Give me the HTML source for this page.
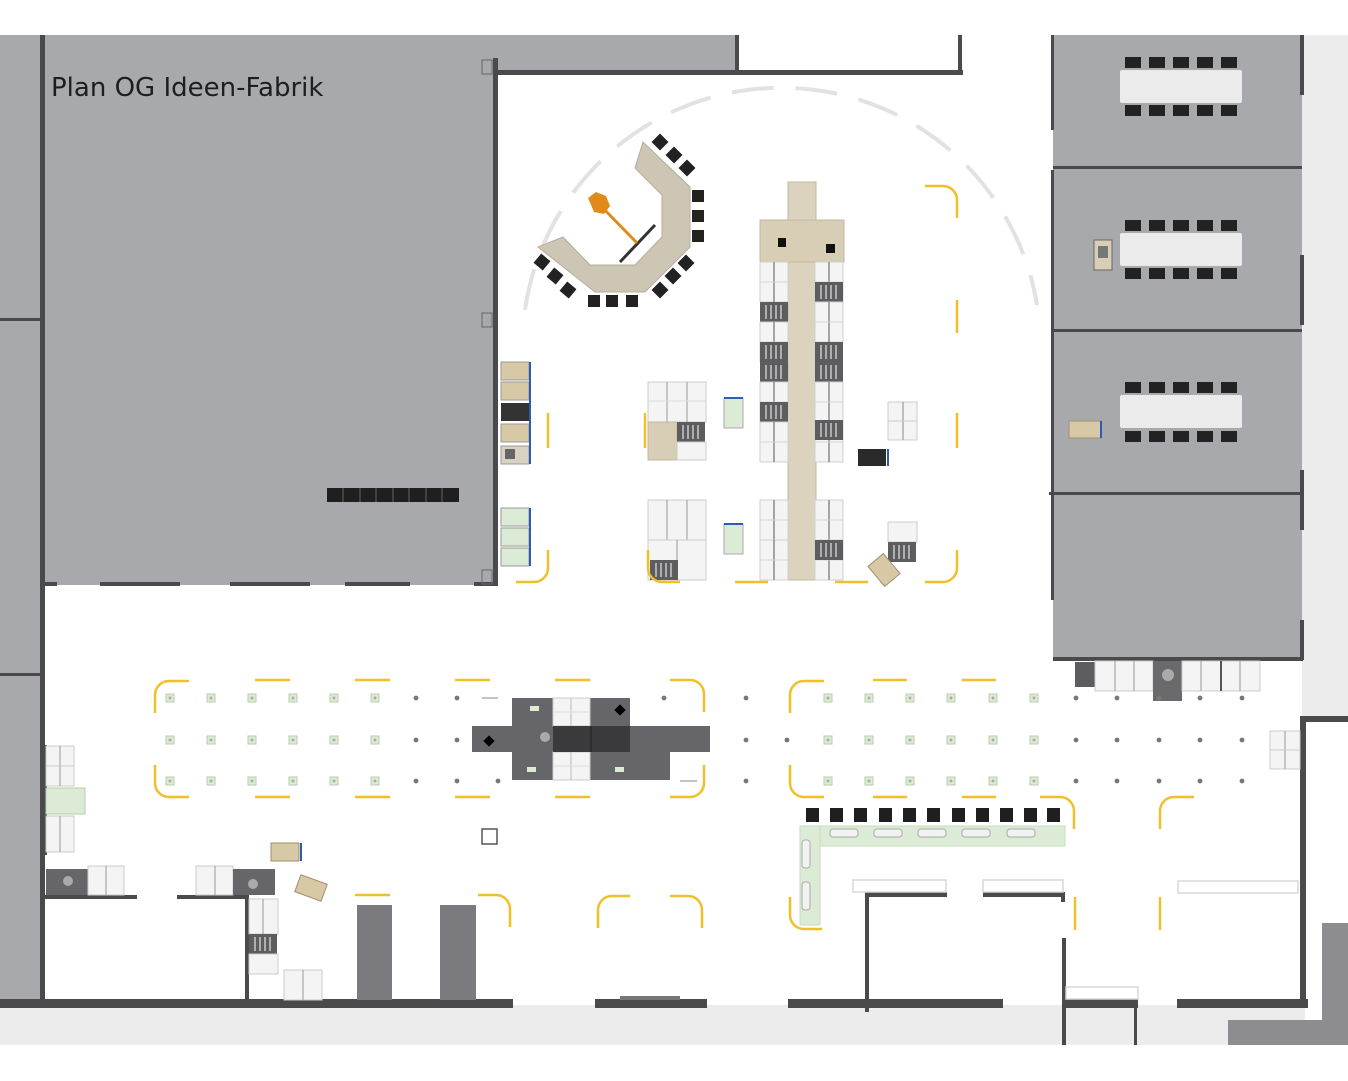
<!DOCTYPE html>
<html><head><meta charset="utf-8"><style>
html,body{margin:0;padding:0;background:#fff;}
svg{display:block;font-family:"Liberation Sans","DejaVu Sans",sans-serif;}
</style></head><body>
<svg width="1348" height="1081" viewBox="0 0 1348 1081" xmlns="http://www.w3.org/2000/svg">
<defs>
<g id="half"><rect x="0" y="0" width="28" height="40" fill="#f4f4f4" stroke="#cfcfcf"/><line x1="14" y1="0" x2="14" y2="40" stroke="#8a8a8a" stroke-width="1.5"/><line x1="0" y1="20" x2="28" y2="20" stroke="#d6d6d6"/></g>
<g id="gr"><rect x="0" y="0" width="28" height="20" fill="#5d5d60"/><g stroke="#c9c9c9" stroke-width="1.5"><line x1="6" y1="3" x2="6" y2="17"/><line x1="11" y1="3" x2="11" y2="17"/><line x1="16" y1="3" x2="16" y2="17"/><line x1="21" y1="3" x2="21" y2="17"/></g></g>
<g id="sq"><rect x="-4" y="-4" width="8" height="8" fill="#dfe9d6" stroke="#b9cdae"/><rect x="-1.3" y="-1.3" width="2.6" height="2.6" fill="#9db58f"/></g>
<g id="dot"><circle r="2.4" fill="#777"/></g>
</defs>

<rect x="0" y="35" width="42" height="970" fill="#a8a9ac"/>
<rect x="45" y="35" width="452" height="550" fill="#a8a9ac"/>
<rect x="497" y="35" width="240" height="37" fill="#a8a9ac"/>
<rect x="1053" y="35" width="249" height="625" fill="#a8a9ac"/>
<rect x="1302" y="35" width="46" height="682" fill="#ececed"/>
<rect x="0" y="1005" width="1305" height="40" fill="#ececed"/>
<rect x="1322" y="923" width="26" height="122" fill="#8d8d91"/>
<rect x="1228" y="1020" width="120" height="25" fill="#8d8d91"/>

<text x="51" y="96" font-size="26" fill="#1e1e1e" font-family="'DejaVu Sans','Liberation Sans',sans-serif">Plan OG Ideen-Fabrik</text>

<g fill="#4a4a4d">
<rect x="40" y="35" width="5" height="970"/>
<rect x="0" y="318" width="42" height="3"/>
<rect x="0" y="673" width="42" height="3"/>
<rect x="493" y="58" width="5" height="528"/>
<rect x="493" y="70" width="470" height="5"/>
<rect x="735" y="35" width="4" height="38"/>
<rect x="958" y="35" width="4" height="40"/>
<rect x="45" y="582" width="12" height="4"/>
<rect x="100" y="582" width="80" height="4"/>
<rect x="230" y="582" width="80" height="4"/>
<rect x="345" y="582" width="65" height="4"/>
<rect x="474" y="582" width="22" height="4"/>
<rect x="1051" y="35" width="3" height="95"/>
<rect x="1051" y="170" width="3" height="430"/>
<rect x="1053" y="166" width="249" height="3"/>
<rect x="1053" y="329" width="249" height="3"/>
<rect x="1049" y="492" width="253" height="3"/>
<rect x="1053" y="657" width="250" height="4"/>
<rect x="1300" y="35" width="4" height="60"/>
<rect x="1300" y="255" width="4" height="70"/>
<rect x="1300" y="470" width="4" height="60"/>
<rect x="1300" y="620" width="4" height="40"/>
<rect x="1300" y="716" width="48" height="6"/>
<rect x="1300" y="716" width="6" height="292"/>
<rect x="0" y="999" width="513" height="9"/>
<rect x="595" y="999" width="112" height="9"/>
<rect x="788" y="999" width="215" height="9"/>
<rect x="1062" y="999" width="76" height="9"/>
<rect x="1177" y="999" width="131" height="9"/>
<rect x="1062" y="938" width="4" height="107"/>
<rect x="1134" y="1000" width="3" height="45"/>
<rect x="865" y="892" width="4" height="120"/>
<rect x="865" y="892" width="82" height="5"/>
<rect x="983" y="892" width="82" height="5"/>
<rect x="1061" y="892" width="4" height="10"/>
<rect x="44" y="895" width="93" height="4"/>
<rect x="177" y="895" width="72" height="4"/>
<rect x="245" y="895" width="4" height="105"/>
<rect x="44" y="745" width="3" height="110"/>
</g>
<rect x="357" y="905" width="35" height="95" fill="#7b7b7f"/>
<rect x="440" y="905" width="36" height="95" fill="#7b7b7f"/>
<rect x="482" y="60" width="10" height="14" fill="none" stroke="#666"/>
<rect x="482" y="313" width="10" height="14" fill="none" stroke="#666"/>
<rect x="482" y="570" width="10" height="14" fill="none" stroke="#666"/>
<g fill="none" stroke="#d8d8d8" stroke-width="1.5">
<rect x="853" y="880" width="93" height="12"/><rect x="983" y="880" width="80" height="12"/><rect x="1178" y="881" width="120" height="12"/><rect x="1066" y="987" width="72" height="12"/>
</g>
<rect x="620" y="996" width="60" height="4" fill="#777"/>

<g fill="#1f1f1f"><rect x="327" y="488" width="132" height="14"/></g>
<g stroke="#666" stroke-width="1"><line x1="343" y1="488" x2="343" y2="502"/><line x1="360" y1="488" x2="360" y2="502"/><line x1="376" y1="488" x2="376" y2="502"/><line x1="393" y1="488" x2="393" y2="502"/><line x1="409" y1="488" x2="409" y2="502"/><line x1="426" y1="488" x2="426" y2="502"/><line x1="442" y1="488" x2="442" y2="502"/></g>

<g>
<rect x="1120" y="70" width="122" height="33" fill="#ebebec" rx="2"/>
<rect x="1120" y="233" width="122" height="33" fill="#ebebec" rx="2"/>
<rect x="1120" y="395" width="122" height="33" fill="#ebebec" rx="2"/>
<g fill="#222">
<rect x="1125" y="57" width="16" height="11"/><rect x="1149" y="57" width="16" height="11"/><rect x="1173" y="57" width="16" height="11"/><rect x="1197" y="57" width="16" height="11"/><rect x="1221" y="57" width="16" height="11"/>
<rect x="1125" y="105" width="16" height="11"/><rect x="1149" y="105" width="16" height="11"/><rect x="1173" y="105" width="16" height="11"/><rect x="1197" y="105" width="16" height="11"/><rect x="1221" y="105" width="16" height="11"/>
<rect x="1125" y="220" width="16" height="11"/><rect x="1149" y="220" width="16" height="11"/><rect x="1173" y="220" width="16" height="11"/><rect x="1197" y="220" width="16" height="11"/><rect x="1221" y="220" width="16" height="11"/>
<rect x="1125" y="268" width="16" height="11"/><rect x="1149" y="268" width="16" height="11"/><rect x="1173" y="268" width="16" height="11"/><rect x="1197" y="268" width="16" height="11"/><rect x="1221" y="268" width="16" height="11"/>
<rect x="1125" y="382" width="16" height="11"/><rect x="1149" y="382" width="16" height="11"/><rect x="1173" y="382" width="16" height="11"/><rect x="1197" y="382" width="16" height="11"/><rect x="1221" y="382" width="16" height="11"/>
<rect x="1125" y="431" width="16" height="11"/><rect x="1149" y="431" width="16" height="11"/><rect x="1173" y="431" width="16" height="11"/><rect x="1197" y="431" width="16" height="11"/><rect x="1221" y="431" width="16" height="11"/>
</g>
<rect x="1094" y="240" width="18" height="30" fill="#d9cfb8" stroke="#666"/><rect x="1098" y="246" width="10" height="12" fill="#777"/>
<rect x="1069" y="421" width="32" height="17" fill="#d8c9a6" stroke="#a08e6b"/><line x1="1101" y1="421" x2="1101" y2="438" stroke="#2c5cb3" stroke-width="2"/>
</g>

<rect x="1075" y="662" width="20" height="25" fill="#5d5d60"/>
<rect x="1095" y="661" width="58" height="30" fill="#f4f4f4" stroke="#ccc"/><line x1="1115" y1="661" x2="1115" y2="691" stroke="#999"/><line x1="1134" y1="661" x2="1134" y2="691" stroke="#999"/>
<rect x="1153" y="661" width="29" height="40" fill="#6a6a6d"/><circle cx="1168" cy="675" r="6" fill="#aaa"/>
<rect x="1182" y="661" width="78" height="30" fill="#f4f4f4" stroke="#ccc"/><line x1="1201" y1="661" x2="1201" y2="691" stroke="#999"/><line x1="1221" y1="661" x2="1221" y2="691" stroke="#555" stroke-width="2"/><line x1="1240" y1="661" x2="1240" y2="691" stroke="#999"/>
<rect x="1270" y="731" width="30" height="38" fill="#f4f4f4" stroke="#ccc"/><line x1="1285" y1="731" x2="1285" y2="769" stroke="#999"/><line x1="1270" y1="750" x2="1300" y2="750" stroke="#ccc"/>

<path d="M 525 310 A 259 259 0 0 1 1037 305" fill="none" stroke="#e2e2e2" stroke-width="4" stroke-dasharray="42 22"/>

<polygon points="538,247 595,292 645,292 690,247 690,187 643,142 635,168 662,195 662,237 635,265 590,265 563,237" fill="#cdc6b5" stroke="#b5ad9a"/>
<g fill="#222">
<rect x="588" y="295" width="12" height="12"/><rect x="606" y="295" width="12" height="12"/><rect x="626" y="295" width="12" height="12"/>
<rect x="692" y="190" width="12" height="12"/><rect x="692" y="210" width="12" height="12"/><rect x="692" y="230" width="12" height="12"/>
<rect x="-6" y="-6" width="12" height="12" transform="translate(542,262) rotate(40)"/>
<rect x="-6" y="-6" width="12" height="12" transform="translate(555,276) rotate(40)"/>
<rect x="-6" y="-6" width="12" height="12" transform="translate(568,290) rotate(40)"/>
<rect x="-6" y="-6" width="12" height="12" transform="translate(660,290) rotate(-45)"/>
<rect x="-6" y="-6" width="12" height="12" transform="translate(673,276) rotate(-45)"/>
<rect x="-6" y="-6" width="12" height="12" transform="translate(686,263) rotate(-45)"/>
<rect x="-6" y="-6" width="12" height="12" transform="translate(660,142) rotate(45)"/>
<rect x="-6" y="-6" width="12" height="12" transform="translate(674,155) rotate(45)"/>
<rect x="-6" y="-6" width="12" height="12" transform="translate(687,168) rotate(45)"/>
</g>
<line x1="620" y1="262" x2="655" y2="225" stroke="#333" stroke-width="3"/>
<line x1="600" y1="205" x2="637" y2="243" stroke="#e08a1c" stroke-width="3"/>
<polygon points="588,198 596,192 606,196 610,206 604,214 594,212" fill="#e08a1c"/>

<g>
<rect x="501" y="362" width="28" height="18" fill="#d8c9a6" stroke="#999"/>
<rect x="501" y="382" width="28" height="18" fill="#d8c9a6" stroke="#999"/>
<rect x="501" y="403" width="28" height="18" fill="#333"/>
<rect x="501" y="424" width="28" height="18" fill="#d8c9a6" stroke="#999"/>
<rect x="501" y="446" width="28" height="18" fill="#d9d2c2" stroke="#999"/><rect x="505" y="449" width="10" height="10" fill="#666"/>
<rect x="501" y="508" width="28" height="18" fill="#dcebd6" stroke="#999"/>
<rect x="501" y="528" width="28" height="18" fill="#dcebd6" stroke="#999"/>
<rect x="501" y="548" width="28" height="18" fill="#dcebd6" stroke="#999"/>
<g stroke="#2c5cb3" stroke-width="2"><line x1="530" y1="362" x2="530" y2="464"/><line x1="530" y1="508" x2="530" y2="566"/></g>
</g>

<rect x="788" y="182" width="28" height="398" fill="#dcd3bf" stroke="#c2b89f"/>
<rect x="760" y="220" width="84" height="42" fill="#d8cdb5" stroke="#c2b89f"/>
<rect x="778" y="238" width="8" height="9" fill="#111"/><rect x="826" y="244" width="9" height="9" fill="#111"/>
<use href="#half" x="760" y="262"/><use href="#half" x="815" y="262"/>
<use href="#gr" x="815" y="282"/>
<use href="#gr" x="760" y="302"/>
<use href="#half" x="760" y="322"/>
<use href="#half" x="815" y="302"/>
<use href="#gr" x="760" y="342"/><use href="#gr" x="760" y="362"/>
<use href="#gr" x="815" y="342"/><use href="#gr" x="815" y="362"/>
<use href="#half" x="760" y="382"/><use href="#half" x="815" y="382"/>
<use href="#gr" x="760" y="402"/>
<use href="#half" x="760" y="422"/><use href="#half" x="815" y="422"/>
<use href="#gr" x="815" y="420"/>
<use href="#half" x="760" y="500"/><use href="#half" x="815" y="500"/>
<use href="#half" x="760" y="540"/><use href="#half" x="815" y="540"/>
<use href="#gr" x="815" y="540"/>
<rect x="648" y="382" width="58" height="40" fill="#f4f4f4" stroke="#ccc"/><g stroke="#999"><line x1="667" y1="382" x2="667" y2="422"/><line x1="687" y1="382" x2="687" y2="422"/></g><line x1="648" y1="401" x2="706" y2="401" stroke="#ddd"/>
<rect x="648" y="422" width="29" height="38" fill="#d8cdb5" stroke="#c2b89f"/>
<use href="#gr" x="677" y="422"/>
<rect x="677" y="442" width="29" height="18" fill="#f4f4f4" stroke="#ccc"/>
<rect x="648" y="500" width="58" height="40" fill="#f4f4f4" stroke="#ccc"/><g stroke="#999"><line x1="667" y1="500" x2="667" y2="540"/><line x1="687" y1="500" x2="687" y2="540"/></g>
<rect x="648" y="540" width="58" height="40" fill="#f4f4f4" stroke="#ccc"/><g stroke="#999"><line x1="677" y1="540" x2="677" y2="580"/></g>
<use href="#gr" x="650" y="560"/>
<rect x="724" y="398" width="19" height="30" fill="#dcebd6" stroke="#aaa"/><line x1="724" y1="398" x2="743" y2="398" stroke="#2c5cb3" stroke-width="2"/>
<rect x="724" y="524" width="19" height="30" fill="#dcebd6" stroke="#aaa"/><line x1="724" y1="524" x2="743" y2="524" stroke="#2c5cb3" stroke-width="2"/>
<rect x="888" y="402" width="29" height="38" fill="#f4f4f4" stroke="#ccc"/><line x1="903" y1="402" x2="903" y2="440" stroke="#888"/><line x1="888" y1="421" x2="917" y2="421" stroke="#ccc"/>
<rect x="858" y="449" width="28" height="17" fill="#2a2a2a"/><line x1="888" y1="449" x2="888" y2="466" stroke="#2c5cb3" stroke-width="2"/>
<rect x="888" y="522" width="29" height="20" fill="#f4f4f4" stroke="#ccc"/><use href="#gr" x="888" y="542"/>
<rect x="-10" y="-13" width="20" height="26" fill="#d8c9a6" stroke="#a08e6b" transform="translate(884,570) rotate(-40)"/>

<g fill="none" stroke="#efc02a" stroke-width="2.5">
<path d="M 925 186 h 18 a 14 14 0 0 1 14 14 v 18"/>
<line x1="957" y1="300" x2="957" y2="333"/><line x1="957" y1="413" x2="957" y2="448"/>
<path d="M 957 550 v 18 a 14 14 0 0 1 -14 14 h -18"/>
<line x1="835" y1="582" x2="868" y2="582"/><line x1="735" y1="582" x2="768" y2="582"/>
<path d="M 680 582 h -18 a 14 14 0 0 1 -14 -14 v -18"/>
<line x1="645" y1="413" x2="645" y2="448"/>
<line x1="548" y1="413" x2="548" y2="448"/>
<path d="M 548 550 v 18 a 14 14 0 0 1 -14 14 h -18"/>
</g>

<g fill="none" stroke="#efc02a" stroke-width="2.5">
<path d="M 155 713 v -18 a 14 14 0 0 1 14 -14 h 20"/>
<path d="M 155 765 v 18 a 14 14 0 0 0 14 14 h 20"/>
<line x1="255" y1="680" x2="290" y2="680"/><line x1="355" y1="680" x2="390" y2="680"/><line x1="455" y1="680" x2="490" y2="680"/><line x1="555" y1="680" x2="590" y2="680"/>
<line x1="255" y1="797" x2="290" y2="797"/><line x1="355" y1="797" x2="390" y2="797"/><line x1="455" y1="797" x2="490" y2="797"/><line x1="555" y1="797" x2="590" y2="797"/>
<path d="M 670 680 h 20 a 14 14 0 0 1 14 14 v 18"/>
<path d="M 704 765 v 18 a 14 14 0 0 1 -14 14 h -20"/>
<path d="M 790 713 v -18 a 14 14 0 0 1 14 -14 h 20"/>
<path d="M 790 765 v 18 a 14 14 0 0 0 14 14 h 20"/>
<line x1="873" y1="680" x2="907" y2="680"/><line x1="962" y1="680" x2="996" y2="680"/>
<line x1="873" y1="797" x2="907" y2="797"/><line x1="962" y1="797" x2="996" y2="797"/>
<path d="M 1040 797 h 20 a 14 14 0 0 1 14 14 v 18"/>
<path d="M 1160 829 v -18 a 14 14 0 0 1 14 -14 h 20"/>
<line x1="1075" y1="897" x2="1075" y2="930"/><line x1="1160" y1="897" x2="1160" y2="930"/>
<path d="M 790 897 v 18 a 14 14 0 0 0 14 14 h 18"/>
<line x1="355" y1="895" x2="390" y2="895"/>
<path d="M 478 895 h 18 a 14 14 0 0 1 14 14 v 18"/>
<path d="M 598 928 v -18 a 14 14 0 0 1 14 -14 h 18"/>
<path d="M 670 896 h 18 a 14 14 0 0 1 14 14 v 18"/>
</g>

<g>
<use href="#sq" x="170" y="698"/><use href="#sq" x="211" y="698"/><use href="#sq" x="252" y="698"/><use href="#sq" x="293" y="698"/><use href="#sq" x="334" y="698"/><use href="#sq" x="375" y="698"/>
<use href="#sq" x="170" y="740"/><use href="#sq" x="211" y="740"/><use href="#sq" x="252" y="740"/><use href="#sq" x="293" y="740"/><use href="#sq" x="334" y="740"/><use href="#sq" x="375" y="740"/>
<use href="#sq" x="170" y="781"/><use href="#sq" x="211" y="781"/><use href="#sq" x="252" y="781"/><use href="#sq" x="293" y="781"/><use href="#sq" x="334" y="781"/><use href="#sq" x="375" y="781"/>
<use href="#sq" x="828" y="698"/><use href="#sq" x="869" y="698"/><use href="#sq" x="910" y="698"/><use href="#sq" x="951" y="698"/><use href="#sq" x="993" y="698"/><use href="#sq" x="1034" y="698"/>
<use href="#sq" x="828" y="740"/><use href="#sq" x="869" y="740"/><use href="#sq" x="910" y="740"/><use href="#sq" x="951" y="740"/><use href="#sq" x="993" y="740"/><use href="#sq" x="1034" y="740"/>
<use href="#sq" x="828" y="781"/><use href="#sq" x="869" y="781"/><use href="#sq" x="910" y="781"/><use href="#sq" x="951" y="781"/><use href="#sq" x="993" y="781"/><use href="#sq" x="1034" y="781"/>
<use href="#dot" x="416" y="698"/><use href="#dot" x="457" y="698"/><use href="#dot" x="416" y="740"/><use href="#dot" x="457" y="740"/><use href="#dot" x="416" y="781"/><use href="#dot" x="457" y="781"/><use href="#dot" x="498" y="781"/>
<use href="#dot" x="664" y="698"/><use href="#dot" x="746" y="698"/><use href="#dot" x="746" y="740"/><use href="#dot" x="746" y="781"/><use href="#dot" x="787" y="740"/>
<use href="#dot" x="1076" y="698"/><use href="#dot" x="1117" y="698"/><use href="#dot" x="1159" y="698"/><use href="#dot" x="1200" y="698"/><use href="#dot" x="1242" y="698"/>
<use href="#dot" x="1076" y="740"/><use href="#dot" x="1117" y="740"/><use href="#dot" x="1159" y="740"/><use href="#dot" x="1200" y="740"/><use href="#dot" x="1242" y="740"/>
<use href="#dot" x="1076" y="781"/><use href="#dot" x="1117" y="781"/><use href="#dot" x="1159" y="781"/><use href="#dot" x="1200" y="781"/><use href="#dot" x="1242" y="781"/>
<line x1="482" y1="698" x2="498" y2="698" stroke="#888"/><line x1="680" y1="781" x2="697" y2="781" stroke="#888"/>
</g>

<rect x="472" y="726" width="238" height="26" fill="#66666a"/>
<rect x="512" y="698" width="118" height="28" fill="#66666a"/>
<rect x="512" y="752" width="158" height="28" fill="#66666a"/>
<rect x="553" y="698" width="37" height="28" fill="#f4f4f4" stroke="#ccc"/><line x1="571" y1="698" x2="571" y2="726" stroke="#bbb"/><line x1="553" y1="712" x2="590" y2="712" stroke="#ddd"/>
<rect x="553" y="752" width="37" height="28" fill="#f4f4f4" stroke="#ccc"/><line x1="571" y1="752" x2="571" y2="780" stroke="#bbb"/><line x1="553" y1="766" x2="590" y2="766" stroke="#ddd"/>
<rect x="553" y="726" width="77" height="26" fill="#3a3a3c"/><line x1="591" y1="726" x2="591" y2="752" stroke="#222"/>
<rect x="-4" y="-4" width="8" height="8" fill="#000" transform="translate(489,741) rotate(45)"/>
<rect x="-4" y="-4" width="8" height="8" fill="#000" transform="translate(620,710) rotate(45)"/>
<circle cx="545" cy="737" r="5" fill="#aaa"/>
<rect x="530" y="706" width="9" height="5" fill="#dcebd6"/><rect x="527" y="767" width="9" height="5" fill="#dcebd6"/><rect x="615" y="767" width="9" height="5" fill="#dcebd6"/>

<rect x="800" y="826" width="265" height="20" fill="#dcebd6" stroke="#c6dcbc"/>
<rect x="800" y="826" width="20" height="99" fill="#dcebd6" stroke="#c6dcbc"/>
<g fill="#f2f2f2" stroke="#aaa"><rect x="830" y="829" width="28" height="8" rx="3"/><rect x="874" y="829" width="28" height="8" rx="3"/><rect x="918" y="829" width="28" height="8" rx="3"/><rect x="962" y="829" width="28" height="8" rx="3"/><rect x="1007" y="829" width="28" height="8" rx="3"/><rect x="802" y="840" width="8" height="28" rx="3"/><rect x="802" y="882" width="8" height="28" rx="3"/></g>
<g fill="#1f1f1f">
<rect x="806" y="808" width="13" height="14"/><rect x="830" y="808" width="13" height="14"/><rect x="854" y="808" width="13" height="14"/><rect x="879" y="808" width="13" height="14"/><rect x="903" y="808" width="13" height="14"/><rect x="927" y="808" width="13" height="14"/><rect x="952" y="808" width="13" height="14"/><rect x="976" y="808" width="13" height="14"/><rect x="1000" y="808" width="13" height="14"/><rect x="1024" y="808" width="13" height="14"/><rect x="1047" y="808" width="13" height="14"/>
</g>
<rect x="482" y="829" width="15" height="15" fill="#fff" stroke="#555" stroke-width="1.5"/>

<rect x="46" y="746" width="28" height="40" fill="#f4f4f4" stroke="#ccc"/><line x1="60" y1="746" x2="60" y2="786" stroke="#999"/><line x1="46" y1="766" x2="74" y2="766" stroke="#ccc"/>
<rect x="46" y="788" width="39" height="26" fill="#dcebd6" stroke="#b9cdae"/>
<rect x="46" y="816" width="28" height="36" fill="#f4f4f4" stroke="#ccc"/><line x1="60" y1="816" x2="60" y2="852" stroke="#999"/>
<rect x="46" y="869" width="42" height="26" fill="#66666a"/><circle cx="68" cy="881" r="5" fill="#aaa"/>
<rect x="88" y="866" width="36" height="29" fill="#f4f4f4" stroke="#ccc"/><line x1="106" y1="866" x2="106" y2="895" stroke="#999"/>
<rect x="196" y="866" width="37" height="29" fill="#f4f4f4" stroke="#ccc"/><line x1="215" y1="866" x2="215" y2="895" stroke="#999"/>
<rect x="233" y="869" width="42" height="26" fill="#66666a"/><circle cx="253" cy="884" r="5" fill="#aaa"/>
<rect x="249" y="899" width="29" height="35" fill="#f4f4f4" stroke="#ccc"/><line x1="263" y1="899" x2="263" y2="934" stroke="#999"/>
<use href="#gr" x="249" y="934"/>
<rect x="249" y="954" width="29" height="20" fill="#f4f4f4" stroke="#ccc"/>
<rect x="284" y="970" width="38" height="30" fill="#f4f4f4" stroke="#ccc"/><line x1="303" y1="970" x2="303" y2="1000" stroke="#999"/>
<rect x="271" y="843" width="28" height="18" fill="#d8c9a6" stroke="#a08e6b"/><line x1="301" y1="843" x2="301" y2="861" stroke="#2c5cb3" stroke-width="2"/>
<rect x="-14" y="-9" width="28" height="18" fill="#d8c9a6" stroke="#a08e6b" transform="translate(311,888) rotate(20)"/>
</svg>
</body></html>
